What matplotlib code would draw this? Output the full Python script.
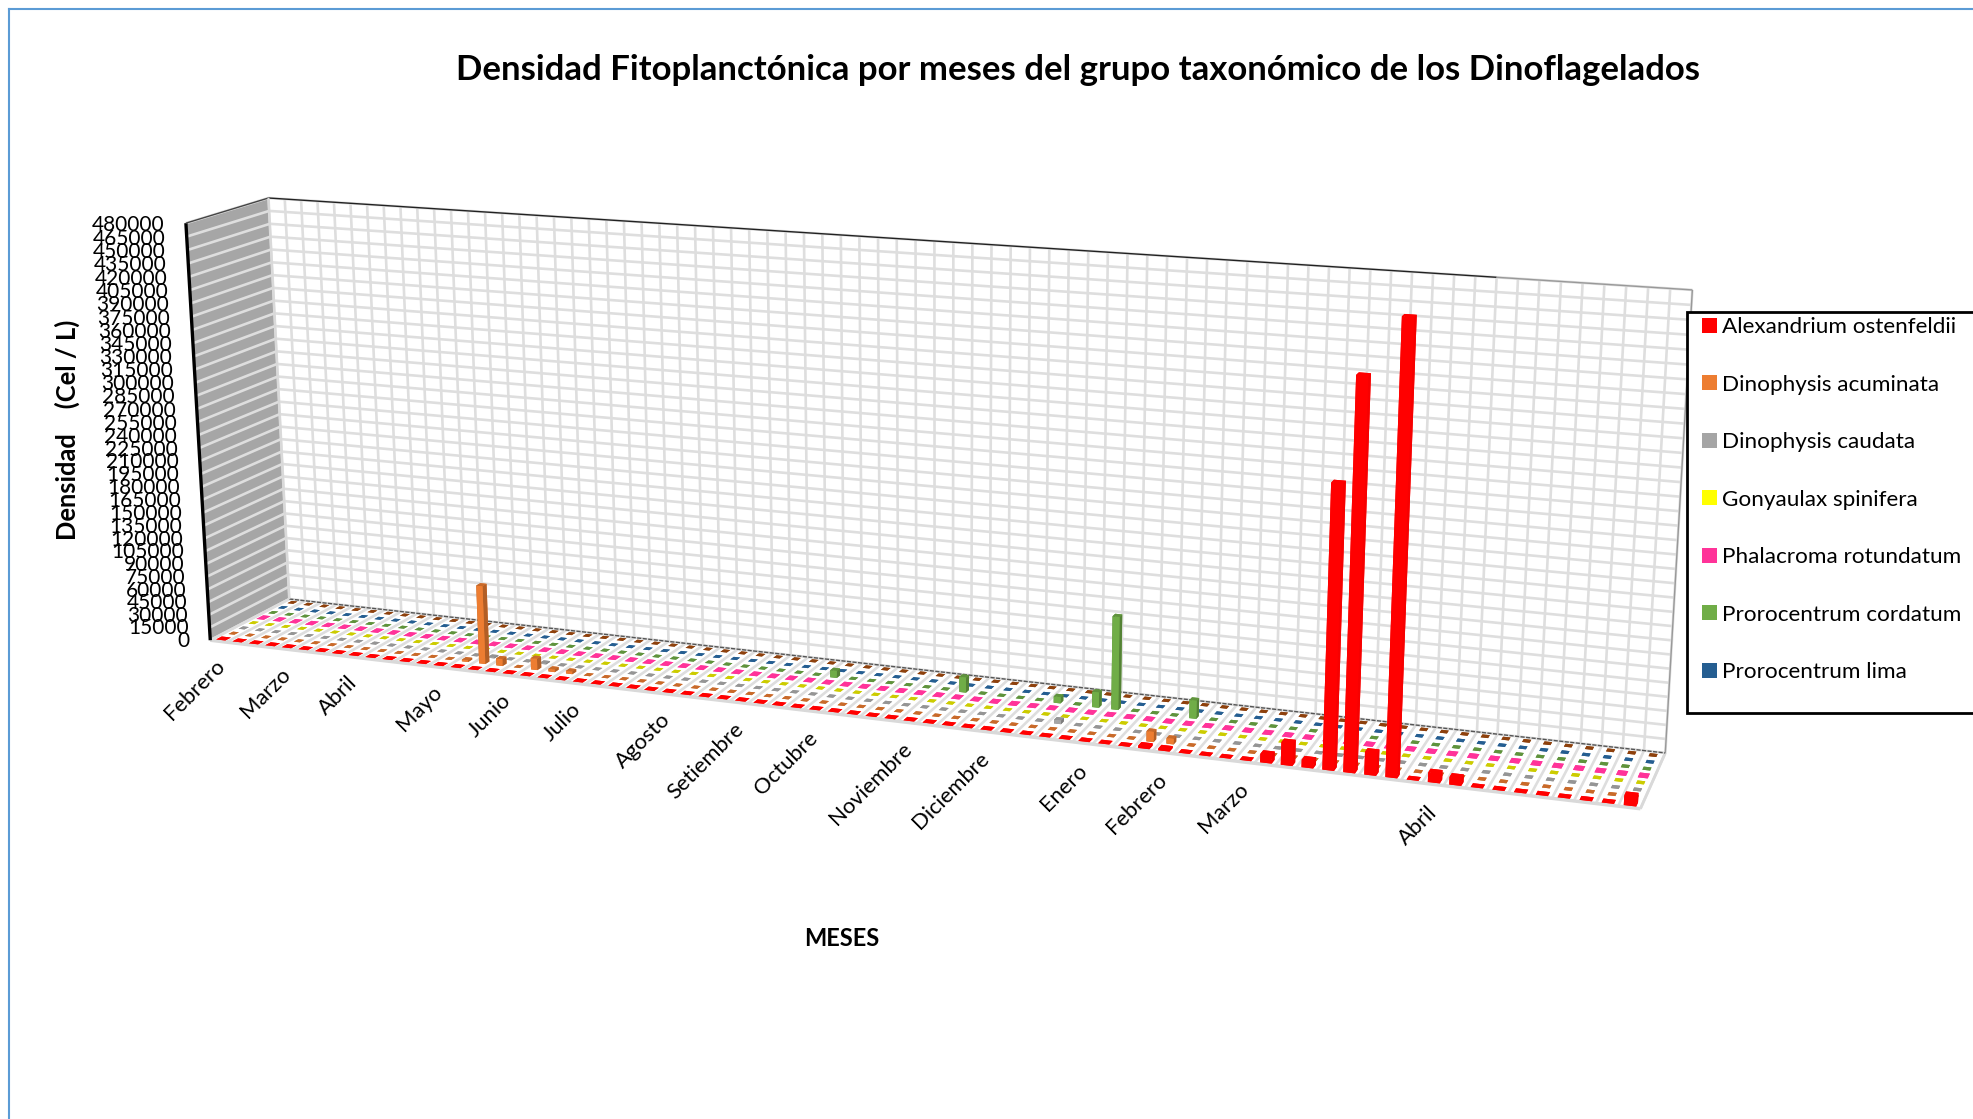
#!/usr/bin/env python3
# -*- coding: utf-8 -*-
"""Densidad fitoplanctonica - grafico 3D de columnas (Dinoflagelados)"""
import numpy as np
import matplotlib
matplotlib.use('Agg')
import matplotlib.pyplot as plt
from matplotlib.patches import Patch, Rectangle
from matplotlib.lines import Line2D
from mpl_toolkits.mplot3d import proj3d

W, H = 1973, 1119
N_CAT = 75

# etiquetas de meses (solo algunas muestras llevan nombre)
MONTH_POS = [0, 4, 8, 13, 17, 21, 26, 30, 34, 39, 43, 48, 52, 56, 65]
MONTH_NAMES = ['Febrero', 'Marzo', 'Abril', 'Mayo', 'Junio', 'Julio', 'Agosto', 'Setiembre',
               'Octubre', 'Noviembre', 'Diciembre', 'Enero', 'Febrero', 'Marzo', 'Abril']

SERIES = ['Alexandrium ostenfeldii', 'Dinophysis acuminata', 'Dinophysis caudata',
          'Gonyaulax spinifera', 'Phalacroma rotundatum', 'Prorocentrum cordatum',
          'Prorocentrum lima', 'Otros']
COLORS = ['#ff0000', '#ed7d31', '#a5a5a5', '#ffff00', '#ff3399', '#70ad47', '#255e91', '#9e480e']
LEGEND_COLORS = ['#ff0000', '#ed7d31', '#a5a5a5', '#ffff00', '#ff3399', '#70ad47', '#255e91']

# valores distintos de cero, el resto de las muestras es 0
ALEX_IDX = [51, 52, 57, 58, 59, 60, 61, 62, 63, 65, 66, 74]
ALEX_VAL = [2500, 2000, 9000, 24000, 8000, 298000, 408000, 24000, 469000, 10000, 8000, 10000]
ACUM_IDX = [14, 15, 16, 18, 19, 20, 51, 52]
ACUM_VAL = [2000, 90000, 8000, 13000, 3000, 3000, 11000, 6000]
CAUD_IDX = [15, 18, 46]
CAUD_VAL = [1000, 1000, 4000]
CORD_IDX = [33, 40, 45, 47, 48, 52]
CORD_VAL = [8000, 17000, 7000, 17000, 103000, 20000]

Z_MAX = 480000
Z_TICKS = list(range(0, Z_MAX + 1, 15000))

# ancho y fondo de la columna por serie, brillo de las caras
BAR_W = [0.56, 0.36, 0.36, 0.36, 0.46, 0.36, 0.36, 0.36]
BAR_D = [0.55, 0.45, 0.45, 0.45, 0.7, 0.45, 0.45, 0.45]
TOP_K = [1.0, 0.85, 0.9, 0.8, 1.0, 0.85, 1.0, 0.9]
SIDE_K = [0.97, 0.75, 0.75, 0.75, 0.8, 0.75, 0.75, 0.75]

FONT = ['Lato', 'DejaVu Sans']
plt.rcParams['font.family'] = FONT
plt.rcParams['grid.color'] = '#dedede'
plt.rcParams['grid.linewidth'] = 1.9


def px(x, y):
    return x / W, 1 - y / H


def scale_rgb(col, k):
    r, g, b = matplotlib.colors.to_rgb(col)
    return (r * k, g * k, b * k, 1.0)


def data_to_fig(x, y, z):
    # proyeccion 3d -> fraccion de figura, para poner texto 2d
    X, Y, _ = proj3d.proj_transform(x, y, z, ax.get_proj())
    return fig.transFigure.inverted().transform(ax.transData.transform((X, Y)))


values = np.zeros((8, N_CAT))
for s, idx, val in ((0, ALEX_IDX, ALEX_VAL), (1, ACUM_IDX, ACUM_VAL),
                    (2, CAUD_IDX, CAUD_VAL), (5, CORD_IDX, CORD_VAL)):
    values[s, idx] = val

fig = plt.figure(figsize=(W / 100, H / 100), dpi=100, facecolor='white')
ax = fig.add_subplot(111, projection='3d')
ax.set_xlim(0, N_CAT)
ax.set_ylim(0, 8)
ax.set_zlim(0, Z_MAX)
ax.set_proj_type('persp', focal_length=1)
ax.view_init(14.56883, -69.41408, 0.19841)
ax.set_box_aspect((1, 0.10808, 0.29929), zoom=2.53373)

# colocar el axes segun el ajuste de camara (escala y centro en px)
CAM_S, CAM_X, CAM_Y = 3291.572, 897.159, 477.87
x0, x1 = ax.viewLim.intervalx
y0, y1 = ax.viewLim.intervaly
left = CAM_X + CAM_S * x0
bottom = CAM_Y - CAM_S * y0
ax.set_position([left / W, 1 - bottom / H, CAM_S * (x1 - x0) / W, CAM_S * (y1 - y0) / H])
ax.apply_aspect()
ax.patch.set_alpha(0)

# paredes
ax.xaxis.set_pane_color('#a6a6a6')
ax.yaxis.set_pane_color('white')
ax.zaxis.set_pane_color('white')
for axis in (ax.xaxis, ax.yaxis, ax.zaxis):
    axis.pane.set_edgecolor('none')
    axis.line.set_color((0, 0, 0, 0))
ax.set_xticks(np.arange(N_CAT + 1))
ax.set_yticks([])
ax.set_zticks(Z_TICKS)
ax.tick_params(axis='x', color=(0, 0, 0, 0))
ax.tick_params(axis='z', color=(0, 0, 0, 0))
for axis in (ax.xaxis, ax.zaxis):
    for t in axis.get_major_ticks():
        t.label1.set_visible(False)
        t.label2.set_visible(False)
ax.grid(True)

# columnas
xs, ys, dxs, dys, dzs, face_cols = [], [], [], [], [], []
for s in range(8):
    w, d = BAR_W[s], BAR_D[s]
    for i in range(N_CAT):
        xs.append(i + 0.5 - w / 2)
        ys.append(s + 0.5 - d / 2)
        dxs.append(w)
        dys.append(d)
        dzs.append(values[s, i])
        # orden de caras: abajo, arriba, -y, +y, -x, +x
        c = COLORS[s]
        face_cols += [scale_rgb(c, TOP_K[s]), scale_rgb(c, TOP_K[s]), scale_rgb(c, 1.0),
                      scale_rgb(c, 1.0), scale_rgb(c, SIDE_K[s]), scale_rgb(c, SIDE_K[s])]
bars = ax.bar3d(xs, ys, np.zeros(len(xs)), dxs, dys, dzs, color=face_cols, shade=False,
                edgecolor='none')
bars.set_clip_on(False)

# bordes de la caja
frame = dict(clip_on=False, solid_capstyle='butt')
ax.plot([0, 0], [0, 0], [0, Z_MAX], color='black', lw=2.4, zorder=5, **frame)
ax.plot([0, 66], [8, 8], [Z_MAX, Z_MAX], color='#222222', lw=1.0, zorder=5, **frame)
ax.plot([66, N_CAT], [8, 8], [Z_MAX, Z_MAX], color='#999999', lw=1.0, zorder=5, **frame)
ax.plot([0, 0], [0, 8], [Z_MAX, Z_MAX], color='#444444', lw=1.0, zorder=5, **frame)
ax.plot([0, 0], [8, 8], [0, Z_MAX], color='#d9d9d9', lw=1.5, zorder=5, **frame)
ax.plot([N_CAT, N_CAT], [8, 8], [0, Z_MAX], color='#999999', lw=1.0, zorder=5, **frame)
ax.plot([0, N_CAT], [0, 0], [0, 0], color='#d9d9d9', lw=2.5, zorder=1, **frame)
ax.plot([N_CAT, N_CAT], [0, 8], [0, 0], color='#d9d9d9', lw=2.0, zorder=1, **frame)
ax.plot([0, N_CAT], [8, 8], [0, 0], color='#555555', lw=1.0, ls=(0, (3, 1)), zorder=1, **frame)

# etiquetas
for v in Z_TICKS:
    fig.text(*data_to_fig(-1.3, 0, v - 4000), str(v), ha='right', va='center', fontsize=15, color='black')
for pos, name in zip(MONTH_POS, MONTH_NAMES):
    fig.text(*data_to_fig(pos + 0.6, 0, -26000), name, rotation=45, rotation_mode='anchor',
             ha='right', va='center', fontsize=15.8, color='black')

fig.text(*px(1078, 70.5), 'Densidad Fitoplanctónica por meses del grupo taxonómico de los Dinoflagelados',
         ha='center', va='center', fontsize=25, fontweight='bold')
fig.text(*px(67, 430), 'Densidad    (Cel / L)', rotation=90, ha='center', va='center',
         fontsize=18.4, fontweight='bold')
fig.text(*px(842, 938.5), 'MESES', ha='center', va='center', fontsize=17, fontweight='bold')

# leyenda
fx, fy = px(1687, 713)
fig.add_artist(Rectangle((fx, fy), 0.3, (713 - 312) / H, transform=fig.transFigure,
                         facecolor='white', edgecolor='black', lw=2, zorder=6))
handles = [Patch(facecolor=c, edgecolor='none') for c in LEGEND_COLORS]
leg = fig.legend(handles, SERIES[:7], loc='upper left', bbox_to_anchor=px(1691, 306), frameon=False,
                 fontsize=16.2, handlelength=0.65, handleheight=0.65, handletextpad=0.24,
                 labelspacing=1.667, borderaxespad=0, borderpad=0.5)
leg.set_zorder(7)

# marco exterior azul (arriba e izquierda)
fig.add_artist(Line2D([9 / W, 9 / W], [0, 1 - 9 / H], color='#5b9bd5', lw=1.5))
fig.add_artist(Line2D([9 / W, 1], [1 - 9 / H, 1 - 9 / H], color='#5b9bd5', lw=1.5))

plt.savefig('out.png', dpi=100, facecolor='white')
